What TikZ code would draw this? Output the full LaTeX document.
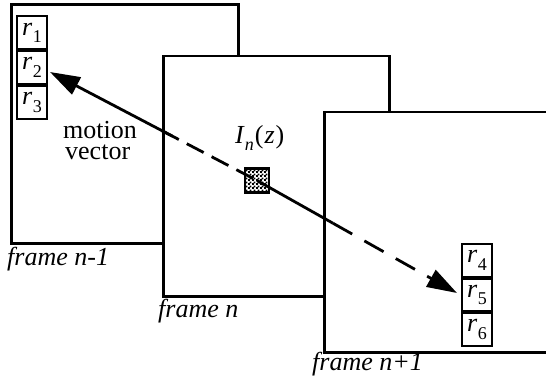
\documentclass[tikz,border=0pt]{standalone}
\usepackage{fontspec}
\setmainfont{Liberation Serif}
\usetikzlibrary{arrows.meta,patterns,calc}
\pgfdeclarepatternformonly{mycheck}{\pgfqpoint{0pt}{0pt}}{\pgfqpoint{4pt}{4pt}}{\pgfqpoint{4pt}{4pt}}{%
  \pgfpathrectangle{\pgfqpoint{0pt}{0pt}}{\pgfqpoint{2.2pt}{2.2pt}}%
  \pgfpathrectangle{\pgfqpoint{2pt}{2pt}}{\pgfqpoint{2.2pt}{2.2pt}}%
  \pgfusepath{fill}}
\newcommand\rlab[1]{\textit{r}\kern0.5pt\raisebox{-0.3em}{\fontsize{18}{20}\selectfont #1}}
\tikzset{
  lbl/.style={font=\fontsize{26}{30}\selectfont, inner sep=0pt},
  framebox/.style={draw, fill=white, line width=2.5pt, inner sep=0pt, anchor=north west},
  rbox/.style={draw, fill=white, line width=2pt, minimum width=30pt, minimum height=32.7pt, inner sep=0pt, font=\fontsize{26}{30}\selectfont},
  vec/.style={line width=2.8pt},
  vecdash/.style={line width=2.8pt, dash pattern=on 19pt off 9pt},
  tipstyle/.style={-{Triangle[length=30pt,width=19pt]}},
}
\begin{document}
\begin{tikzpicture}[x=1pt,y=-1pt]
\useasboundingbox (0,0) rectangle (546,385);
\clip (0,0) rectangle (546,385);
% frames
\node[framebox, minimum width=227pt, minimum height=238.5pt] (fA) at (10,3.5) {};
\node[framebox, minimum width=226pt, minimum height=240pt] (fB) at (162,55) {};
\node[framebox, minimum width=250pt, minimum height=240pt] (fC) at (323,111) {};
% frame labels
\node[lbl, anchor=base west] (lA) at (7,265) {\textit{frame n-1}};
\node[lbl, anchor=base west] (lB) at (158,317) {\textit{frame n}};
\node[lbl, anchor=base west] (lC) at (312,370) {\textit{frame n+1}};
% r boxes
\node[rbox, anchor=north west] (r1) at (16,15.5) {\rlab{1}};
\node[rbox, anchor=north] (r2) at (r1.south) {\rlab{2}};
\node[rbox, anchor=north] (r3) at (r2.south) {\rlab{3}};
\node[rbox, anchor=north west] (r4) at (461,243) {\rlab{4}};
\node[rbox, anchor=north] (r5) at (r4.south) {\rlab{5}};
\node[rbox, anchor=north] (r6) at (r5.south) {\rlab{6}};
% texts
\node[lbl, anchor=base west, align=left, font=\fontsize{26}{23}\selectfont] (mo) at (63,160) {motion\\[-2pt]\hspace*{2pt}vector};
\node[lbl, anchor=base west] (In) at (235,143) {\textit{I}\raisebox{-0.3em}{\fontsize{18}{20}\selectfont\textit{n}}\kern1pt(\kern1pt\textit{z}\kern1pt)};
% vector
\coordinate (tip1) at (50,72);
\coordinate (tip2) at (457,293);
\coordinate (c) at (257,180.5);
\draw[vecdash] ($(tip1)!0.541!(c)$) -- (c);
\draw[vec, tipstyle] ($(tip1)!0.59!(c)$) -- (tip1);
\node[draw, line width=2.2pt, minimum size=24pt, inner sep=0pt, fill=white, pattern=mycheck] (sq) at (c) {};
\draw[vec] (sq.center) -- ($(c)!0.38!(tip2)$) coordinate (q);
\draw[line width=2.8pt, dash pattern=on 22pt off 14pt, tipstyle] (q) -- (tip2);
\end{tikzpicture}
\end{document}
